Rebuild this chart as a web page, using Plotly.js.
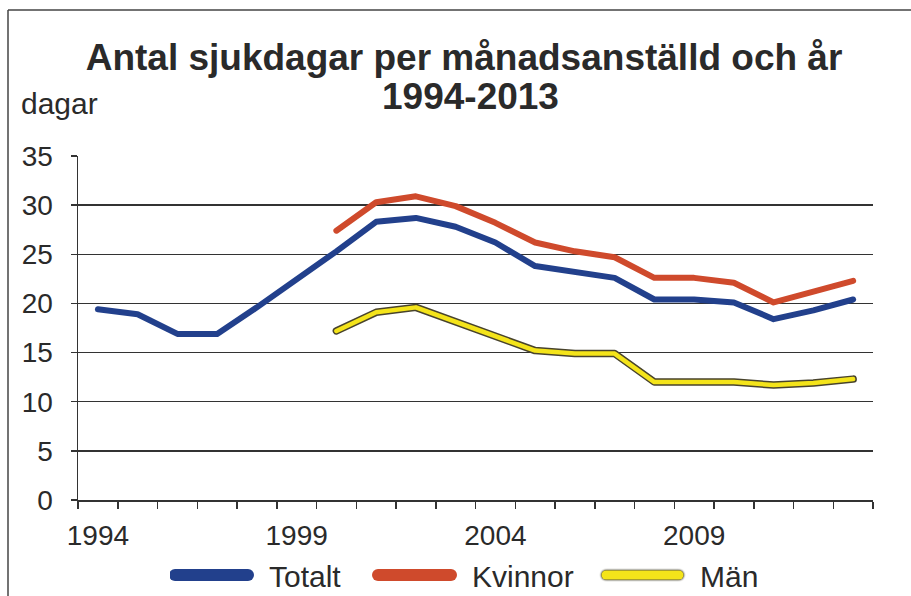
<!DOCTYPE html>
<html><head><meta charset="utf-8">
<script src="https://cdn.plot.ly/plotly-3.0.1.min.js"></script>
<style>
html,body{margin:0;padding:0;background:#fff;}
#chart{width:911px;height:596px;}
.js-line{stroke-linejoin:round;stroke-linecap:round;}
.legend .js-line{stroke-width:12px !important;stroke-dasharray:73px 500px;}
.legend .outlined .js-line{stroke-width:9px !important;filter:drop-shadow(0 0 1px #48432c) drop-shadow(0 0 0.6px #48432c);}
</style></head><body><div id="chart"></div>
<script>
const years = [1994,1995,1996,1997,1998,1999,2000,2001,2002,2003,2004,2005,2006,2007,2008,2009,2010,2011,2012,2013];
const totalt = [19.4,18.9,16.9,16.9,19.6,22.4,25.3,28.3,28.7,27.8,26.2,23.8,23.2,22.6,20.4,20.4,20.1,18.4,19.3,20.4];
const yearsGender = [2000,2001,2002,2003,2004,2005,2006,2007,2008,2009,2010,2011,2012,2013];
const kvinnor = [27.4,30.3,30.9,29.9,28.2,26.2,25.3,24.7,22.6,22.6,22.1,20.1,21.2,22.3];
const man = [17.2,19.1,19.6,18.1,16.6,15.2,14.9,14.9,12.0,12.0,12.0,11.7,11.9,12.3];
const xTickYears = [1994,1999,2004,2009];
const xTickLabels = ['1994','1999','2004','2009'];
const yTicks = [0,5,10,15,20,25,30,35];
const seriesNames = ['Totalt','Kvinnor','Män'];

const FONT = 'Liberation Sans, Arial, sans-serif';
const BLUE = '#22408c', RED = '#cf4a2c', YELLOW = '#f4e41a', OUTLINE = '#48432c';

const traces = [
  {x: years, y: totalt, name: seriesNames[0], type: 'scatter', mode: 'lines',
   line: {color: BLUE, width: 6}, legendwidth: 99},
  {x: yearsGender, y: kvinnor, name: seriesNames[1], type: 'scatter', mode: 'lines',
   line: {color: RED, width: 6}, legendwidth: 124},
  {x: yearsGender, y: man, name: seriesNames[2] + ' kontur', type: 'scatter', mode: 'lines',
   line: {color: OUTLINE, width: 7.5}, showlegend: false, hoverinfo: 'skip'},
  {x: yearsGender, y: man, name: seriesNames[2], type: 'scatter', mode: 'lines',
   line: {color: YELLOW, width: 4.5}}
];

const L = 78, R = 38, T = 156, B = 96, W = 911, H = 596;
const pw = W - L - R, ph = H - T - B;
const px = v => (v - L) / pw;
const py = v => (H - B - v) / ph;

const layout = {
  width: W, height: H,
  margin: {l: L, r: R, t: T, b: B, autoexpand: false},
  paper_bgcolor: '#fff', plot_bgcolor: '#fff',
  font: {family: FONT, color: '#2a2a2a'},
  showlegend: true,
  title: {text: 'Antal sjukdagar per månadsanställd och år',
          font: {size: 37, family: FONT, weight: 'bold', color: '#2a2a2a'},
          xref: 'container', yref: 'container', x: 464 / W, xanchor: 'center',
          y: 1 - 57 / H, yanchor: 'middle'},
  xaxis: {range: [1993.5, 2013.5], tickmode: 'array', tickvals: xTickYears, ticktext: xTickLabels,
          ticks: '', showgrid: false, zeroline: false,
          showline: true, linecolor: '#333', linewidth: 1.5,
          tickfont: {size: 28, family: FONT, color: '#2a2a2a'}, ticklabelstandoff: 10,
          minor: {tickmode: 'linear', tick0: 1993.5, dtick: 1, ticks: 'outside', ticklen: 7,
                  tickcolor: '#333', tickwidth: 1.5, showgrid: false},
          fixedrange: true},
  yaxis: {range: [0, 35], tickmode: 'array', tickvals: yTicks,
          ticks: 'outside', ticklen: 6, tickcolor: '#333', tickwidth: 1.5,
          showgrid: true, gridcolor: '#333', gridwidth: 1.5,
          showline: true, linecolor: '#333', linewidth: 1.5, zeroline: false,
          tickfont: {size: 28, family: FONT, color: '#2a2a2a'},
          ticklabelstandoff: 12, fixedrange: true},
  legend: {orientation: 'h', x: px(467), xanchor: 'center', y: py(575), yanchor: 'middle',
           font: {size: 30, family: FONT, color: '#2a2a2a'}, itemwidth: 89,
           bgcolor: 'rgba(0,0,0,0)'},
  annotations: [
    {text: '1994-2013', xref: 'paper', yref: 'paper', x: px(470), y: py(97),
     xanchor: 'center', yanchor: 'middle', showarrow: false,
     font: {size: 37, family: FONT, weight: 'bold', color: '#2a2a2a'}},
    {text: 'dagar', xref: 'paper', yref: 'paper', x: px(19), y: py(104),
     xanchor: 'left', yanchor: 'middle', showarrow: false,
     font: {size: 30, family: FONT, color: '#2a2a2a'}}
  ],
  shapes: [
    {type: 'line', xref: 'paper', yref: 'paper', x0: px(8), x1: px(8), y0: py(600), y1: py(10),
     line: {color: '#444', width: 1.5}},
    {type: 'line', xref: 'paper', yref: 'paper', x0: px(8), x1: px(915), y0: py(10), y1: py(10),
     line: {color: '#444', width: 1.5}}
  ]
};

Plotly.newPlot('chart', traces, layout, {displayModeBar: false, staticPlot: true}).then(function () {
  document.querySelectorAll('.legend .traces').forEach(function (g) {
    const t = g.querySelector('text.legendtext');
    if (t && t.textContent === seriesNames[2]) g.classList.add('outlined');
  });
});
</script></body></html>
